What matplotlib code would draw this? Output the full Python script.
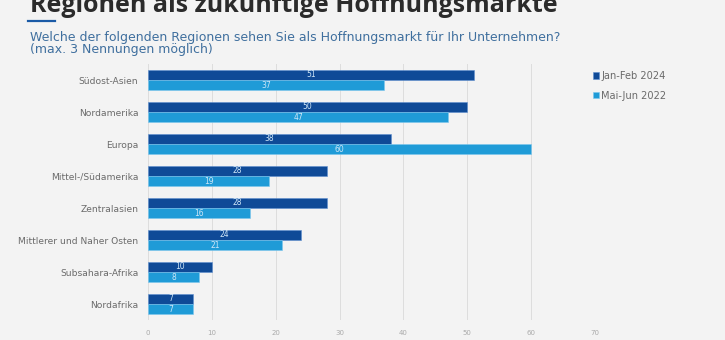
import matplotlib.pyplot as plt
import numpy as np

plt.rcParams['font.family'] = ['DejaVu Sans']

regionen = ["Südost-Asien", "Nordamerika", "Europa", "Mittel-/Südamerika",
            "Zentralasien", "Mittlerer und Naher Osten", "Subsahara-Afrika", "Nordafrika"]
werte_2024 = [51, 50, 38, 28, 28, 24, 10, 7]
werte_2022 = [37, 47, 60, 19, 16, 21, 8, 7]
serien = ["Jan-Feb 2024", "Mai-Jun 2022"]
x_ticks = [0, 10, 20, 30, 40, 50, 60, 70]

dunkelblau = "#0f4a97"
hellblau = "#1f9bd7"
hintergrund = "#f3f3f3"

fig = plt.figure(figsize=(7.25, 3.4), dpi=100, facecolor=hintergrund)
ax = fig.add_axes([148 / 725, 1 - 320 / 340, (595 - 148) / 725, 256 / 340])
ax.set_facecolor(hintergrund)

y = np.arange(len(regionen))
h = 0.32
b1 = ax.barh(y - h / 2, werte_2024, height=h, color=dunkelblau, edgecolor="#5f8fd0",
             linewidth=0.4, label=serien[0], zorder=3)
b2 = ax.barh(y + h / 2, werte_2022, height=h, color=hellblau, edgecolor="#7cc6ee",
             linewidth=0.4, label=serien[1], zorder=3)

# Werte mittig in den Balken
for bars, vals in ((b1, werte_2024), (b2, werte_2022)):
    for bar, v in zip(bars, vals):
        ax.text(v / 2, bar.get_y() + bar.get_height() / 2, str(v), ha="center",
                va="center", fontsize=5.5, color="#cfe6f7", zorder=4)

ax.set_xlim(0, 70)
ax.set_ylim(len(regionen) - 0.5, -0.5)
ax.set_xticks(x_ticks)
ax.set_yticks(y)
ax.set_yticklabels(regionen, fontsize=6.6, color="#6a6a6a")
ax.tick_params(axis="x", labelsize=5, labelcolor="#aaaaaa", length=0, pad=7)
ax.tick_params(axis="y", length=0, pad=7)
ax.grid(axis="x", color="#dddddd", linewidth=0.7, zorder=0)
for s in ax.spines.values():
    s.set_visible(False)

fig.legend(handles=[b1, b2], loc="upper left", bbox_to_anchor=(584 / 725, 1 - 62 / 340),
           frameon=False, fontsize=7.1, labelcolor="#6a6a6a", handlelength=0.6,
           handleheight=0.6, handletextpad=0.25, labelspacing=1.0)

fig.text(30 / 725, 1 - 12 / 340, "Regionen als zukünftige Hoffnungsmärkte",
         fontsize=18, fontweight="bold", color="#2b2b2b", va="baseline", ha="left",
         family="Open Sans")
fig.add_artist(plt.Line2D([28 / 725, 55 / 725], [1 - 21 / 340, 1 - 21 / 340],
                          color="#1a5aa6", linewidth=1.6))
fig.text(30 / 725, 1 - 38 / 340,
         "Welche der folgenden Regionen sehen Sie als Hoffnungsmarkt für Ihr Unternehmen?",
         fontsize=9, color="#3f6f9e", va="center", ha="left")
fig.text(30 / 725, 1 - 50 / 340, "(max. 3 Nennungen möglich)",
         fontsize=9, color="#3f6f9e", va="center", ha="left")

fig.savefig("out.png", dpi=100, facecolor=hintergrund)
